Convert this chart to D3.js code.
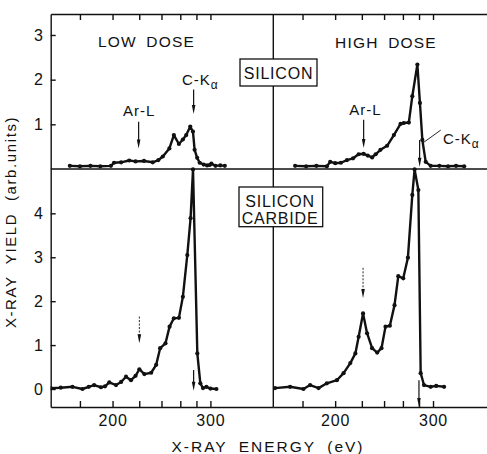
<!DOCTYPE html>
<html>
<head>
<meta charset="utf-8">
<script src="https://cdn.jsdelivr.net/npm/d3@7"></script>
<style>
  body { margin: 0; background: #fff; }
  svg { display: block; }
  text { font-family: "Liberation Sans", Arial, sans-serif; fill: #111; }
</style>
</head>
<body>
<svg width="487" height="454"></svg>
<script>
// energies in eV, yields in arb. units
var siLowE  = [174.6, 180, 186, 192, 198.9, 201, 206, 212, 217, 224, 231.7, 237, 241.3, 248, 252.8, 258.4, 263, 267, 272, 275.4, 277.6, 281, 284.4, 290, 295, 298.9, 301.5, 308, 316, 323.8];
var siLowY  = [0.07, 0.06, 0.07, 0.06, 0.07, 0.14, 0.15, 0.19, 0.17, 0.18, 0.15, 0.2, 0.28, 0.46, 0.76, 0.56, 0.66, 0.76, 0.95, 0.84, 0.43, 0.25, 0.14, 0.1, 0.08, 0.09, 0.12, 0.07, 0.08, 0.07];

var siHighE = [176, 182, 188, 194.5, 196.7, 200, 204, 208.4, 213, 217.4, 221.5, 225, 228.8, 232, 236.5, 243, 250, 257.3, 261, 267, 271.3, 277.8, 281.2, 284.5, 289.2, 296.5, 310, 325, 340, 356.8];
var siHighY = [0.07, 0.06, 0.07, 0.06, 0.16, 0.13, 0.14, 0.2, 0.24, 0.33, 0.34, 0.3, 0.26, 0.33, 0.43, 0.52, 0.76, 1.01, 1.03, 1.04, 1.63, 2.34, 1.48, 0.65, 0.16, 0.07, 0.07, 0.06, 0.07, 0.06];

var sicLowE = [165.2, 170, 176, 181.4, 185, 188.2, 192.4, 195, 197.8, 202.4, 206, 209.6, 213.4, 217, 220.1, 224.3, 230.3, 234.9, 238.7, 244, 248.2, 252.8, 258.4, 263, 268.3, 272.4, 275.5, 281.2, 285.3, 289, 294, 300, 309.5];
var sicLowY = [0.02, 0.03, 0.05, 0.0, 0.05, 0.09, 0.04, 0.06, 0.15, 0.09, 0.16, 0.28, 0.2, 0.3, 0.45, 0.34, 0.37, 0.55, 0.93, 1.04, 1.42, 1.61, 1.62, 2.1, 3.05, 3.89, 5.0, 0.81, 0.13, 0.02, 0.05, 0.01, 0.0];

var sicHighE = [166, 173.4, 180.5, 184.3, 189.3, 194.5, 201.2, 205.9, 210.9, 214.8, 217.4, 221, 224.4, 228.8, 233.4, 237.5, 241.4, 245.8, 250.7, 254.8, 260.4, 265.9, 271.3, 274.2, 279.1, 282.2, 286.8, 296.5, 305, 318];
var sicHighY = [0.02, 0.05, 0.0, 0.09, 0.02, 0.13, 0.2, 0.36, 0.59, 0.81, 1.19, 1.72, 1.27, 0.93, 0.83, 0.93, 1.42, 1.44, 1.91, 2.57, 2.52, 2.99, 4.42, 5.0, 4.53, 0.36, 0.09, 0.05, 0.07, 0.05];

var energyTicks = [180, 200, 220, 240, 260, 280, 300];
var energyLabels = [200, 300];
var topYTicks = [1, 2, 3];
var botYTicks = [0, 1, 2, 3, 4];

var svg = d3.select("svg");
var ink = "#111";

// x axis is linear in wavelength, i.e. in 1/E
var xLeft = d3.scalePow().exponent(-1).domain([165.2, 442]).range([50.7, 273.3]);
var xRight = xLeft.copy().range([273.3, 495.9]);
var yTop = d3.scaleLinear().domain([0, 3.47]).range([169, 14]);
var yBot = d3.scaleLinear().domain([-0.41, 5.01]).range([407, 169]);

svg.append("rect").attr("width", 487).attr("height", 454).attr("fill", "#fff");

svg.append("defs").append("clipPath").attr("id", "plotclip")
  .append("rect").attr("x", 50.7).attr("y", 14).attr("width", 440).attr("height", 393);

function styleAxis(g) {
  g.selectAll("path, line").attr("stroke", ink).attr("stroke-width", 1.4);
  g.selectAll("text").attr("font-family", "Liberation Sans, Arial, sans-serif")
    .attr("font-size", 16).attr("fill", ink).attr("letter-spacing", 0.8);
}

[xLeft, xRight].forEach(function (xs) {
  // top border with inward ticks
  svg.append("g").attr("transform", "translate(0,14)")
    .call(d3.axisBottom(xs).tickValues(energyTicks).tickSize(6).tickSizeOuter(0).tickFormat(""))
    .call(styleAxis);
  // bottom axis, ticks pointing up
  svg.append("g").attr("transform", "translate(0,407)")
    .call(d3.axisBottom(xs).tickValues(energyTicks).tickSizeInner(-6).tickSizeOuter(0).tickPadding(8)
      .tickFormat(function (d) { return energyLabels.indexOf(d) >= 0 ? d : ""; }))
    .call(styleAxis);
  // middle line between the two materials
  svg.append("line").attr("x1", xs.range()[0]).attr("x2", xs.range()[1])
    .attr("y1", yTop(0)).attr("y2", yTop(0)).attr("stroke", ink).attr("stroke-width", 1.4);
});

svg.append("g").attr("transform", "translate(50.7,0)")
  .call(d3.axisLeft(yTop).tickValues(topYTicks).tickFormat(d3.format("d"))
    .tickSizeInner(-5).tickSizeOuter(0).tickPadding(7))
  .call(styleAxis);
svg.append("g").attr("transform", "translate(50.7,0)")
  .call(d3.axisLeft(yBot).tickValues(botYTicks).tickFormat(d3.format("d"))
    .tickSizeInner(-5).tickSizeOuter(0).tickPadding(7))
  .call(styleAxis);

// divider between low and high dose
svg.append("line").attr("x1", xRight.range()[0]).attr("x2", xRight.range()[0])
  .attr("y1", 14).attr("y2", 407).attr("stroke", ink).attr("stroke-width", 1.4);

function drawSpectrum(xs, ys, E, Y) {
  var pts = E.map(function (e, i) { return [xs(e), ys(Y[i])]; });
  var g = svg.append("g").attr("clip-path", "url(#plotclip)");
  g.append("path")
    .attr("d", d3.line()(pts))
    .attr("fill", "none").attr("stroke", ink).attr("stroke-width", 2.4)
    .attr("stroke-linejoin", "round");
  g.selectAll("circle").data(pts).enter().append("circle")
    .attr("cx", function (d) { return d[0]; })
    .attr("cy", function (d) { return d[1]; })
    .attr("r", 2.1).attr("fill", ink);
}

drawSpectrum(xLeft, yTop, siLowE, siLowY);
drawSpectrum(xRight, yTop, siHighE, siHighY);
drawSpectrum(xLeft, yBot, sicLowE, sicLowY);
drawSpectrum(xRight, yBot, sicHighE, sicHighY);

function arrow(xs, ys, e, v1, v2, dashed) {
  var x = xs(e), y1 = ys(v1), y2 = ys(v2);
  svg.append("line").attr("x1", x).attr("x2", x).attr("y1", y1).attr("y2", y2 - 6)
    .attr("stroke", ink).attr("stroke-width", dashed ? 0.9 : 1.2)
    .attr("stroke-dasharray", dashed ? "2,1.5" : null);
  svg.append("path")
    .attr("d", "M" + (x - 1.8) + "," + (y2 - 9) + "L" + (x + 1.8) + "," + (y2 - 9) + "L" + x + "," + y2 + "Z")
    .attr("fill", ink);
}

function label(xs, ys, e, v, txt, sub, anchor) {
  var t = svg.append("text").attr("x", xs(e)).attr("y", ys(v))
    .attr("font-size", 15).attr("letter-spacing", 1)
    .attr("text-anchor", anchor || "middle").text(txt);
  if (sub) t.append("tspan").attr("dy", 4).attr("font-size", 12).text(sub);
}

// annotations, silicon
label(xLeft, yTop, 220, 1.19, "Ar-L");
arrow(xLeft, yTop, 219.5, 1.06, 0.46);
label(xLeft, yTop, 262, 1.87, "C-K", "\u03b1", "start");
arrow(xLeft, yTop, 276.3, 1.78, 1.23);

label(xRight, yTop, 223, 1.22, "Ar-L");
arrow(xRight, yTop, 221.5, 1.1, 0.47);
label(xRight, yTop, 316, 0.57, "C-K", "\u03b1", "start");
svg.append("line")
  .attr("x1", xRight(312.3)).attr("y1", yTop(0.87))
  .attr("x2", xRight(284.5)).attr("y2", yTop(0.575))
  .attr("stroke", ink).attr("stroke-width", 0.9);
arrow(xRight, yTop, 280.8, 0.65, 0.05);

// annotations, silicon carbide
arrow(xLeft, yBot, 220.1, 1.65, 1.04, true);
arrow(xLeft, yBot, 276.3, 0.43, -0.04);
arrow(xRight, yBot, 221, 2.76, 2.07, true);
arrow(xRight, yBot, 279.9, 0.2, -0.41);

// panel titles
svg.append("text").attr("x", 146.5).attr("y", 46.5).attr("text-anchor", "middle")
  .attr("font-size", 15.5).attr("letter-spacing", 1.2).attr("word-spacing", 4).text("LOW DOSE");
svg.append("text").attr("x", 386).attr("y", 47.5).attr("text-anchor", "middle")
  .attr("font-size", 15.5).attr("letter-spacing", 1.2).attr("word-spacing", 4).text("HIGH DOSE");

// material boxes
svg.append("rect").attr("x", 240).attr("y", 59).attr("width", 77).attr("height", 27)
  .attr("fill", "#fff").attr("stroke", ink).attr("stroke-width", 1.3);
svg.append("text").attr("x", 278.5).attr("y", 78.5).attr("text-anchor", "middle")
  .attr("font-size", 16).attr("letter-spacing", 0.8).text("SILICON");

svg.append("rect").attr("x", 239).attr("y", 187).attr("width", 83.7).attr("height", 39.7)
  .attr("fill", "#fff").attr("stroke", ink).attr("stroke-width", 1.3);
svg.append("text").attr("x", 280).attr("y", 206.5).attr("text-anchor", "middle")
  .attr("font-size", 16).attr("letter-spacing", 0.8).text("SILICON");
svg.append("text").attr("x", 280).attr("y", 223.5).attr("text-anchor", "middle")
  .attr("font-size", 16).attr("letter-spacing", 0.8).text("CARBIDE");

// axis titles
svg.append("text").attr("x", 268).attr("y", 451.5).attr("text-anchor", "middle")
  .attr("font-size", 15.5).attr("letter-spacing", 2).attr("word-spacing", 5).text("X-RAY ENERGY (eV)");
svg.append("text").attr("transform", "translate(16,222) rotate(-90)").attr("text-anchor", "middle")
  .attr("font-size", 15).attr("letter-spacing", 1.6).attr("word-spacing", 6).text("X-RAY YIELD (arb.units)");
</script>
</body>
</html>
